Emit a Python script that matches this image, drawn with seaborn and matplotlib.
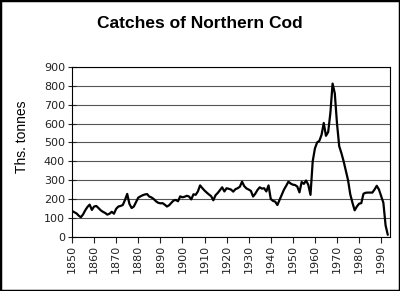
import matplotlib
matplotlib.use('Agg')
import matplotlib.pyplot as plt
import seaborn as sns
import pandas as pd
from matplotlib.patches import Rectangle

# ---- data ----
years = list(range(1850, 1994))
catches = [
    137, 130, 124, 112, 103, 118, 140, 158, 170, 142,   # 1850s
    160, 163, 152, 140, 132, 126, 117, 122, 132, 122,   # 1860s
    148, 160, 163, 168, 195, 227, 174, 152, 160, 184,   # 1870s
    207, 214, 220, 224, 226, 213, 208, 200, 188, 180,   # 1880s
    177, 178, 170, 160, 167, 180, 192, 195, 188, 214,   # 1890s
    209, 212, 217, 213, 198, 225, 222, 240, 272, 258,   # 1900s
    245, 234, 224, 215, 193, 220, 232, 247, 262, 240,   # 1910s
    257, 254, 250, 239, 252, 257, 265, 292, 268, 256,   # 1920s
    250, 243, 213, 228, 248, 262, 255, 257, 240, 272,   # 1930s
    200, 190, 186, 168, 195, 222, 250, 270, 292, 282,   # 1940s
    276, 274, 266, 235, 290, 280, 298, 275, 222, 400,   # 1950s
    468, 500, 508, 540, 603, 535, 555, 656, 812, 760,   # 1960s
    600, 480, 443, 400, 350, 300, 225, 180, 140, 160,   # 1970s
    175, 178, 228, 233, 234, 234, 234, 250, 270, 250,   # 1980s
    215, 180, 60, 10,                                   # 1990s
]
x_ticks = list(range(1850, 1991, 10))
x_tick_labels = [str(y) for y in x_ticks]
y_ticks = list(range(0, 901, 100))
title = "Catches of Northern Cod"
y_label = "Ths. tonnes"

sns.set_theme(style='white')
plt.rcParams['font.family'] = ['DejaVu Sans']

df = pd.DataFrame({'Year': years, 'Catch': catches})

fig = plt.figure(figsize=(4, 2.91), dpi=100)
fig.patch.set_facecolor('white')
ax = fig.add_axes([0.18, 0.1866, 0.795, 0.5832])
ax.set_facecolor('white')

ax.set_axisbelow(True)
ax.yaxis.grid(True, color='#555555', linewidth=0.8)
ax.xaxis.grid(False)

sns.lineplot(data=df, x='Year', y='Catch', ax=ax, color='black', linewidth=1.6)

ax.set_xlim(1850, 1994)
ax.set_ylim(0, 900)
ax.set_xticks(x_ticks)
ax.set_xticklabels(x_tick_labels, rotation=90)
ax.set_yticks(y_ticks)
ax.set_yticklabels([str(v) for v in y_ticks])
ax.tick_params(axis='both', labelsize=8, colors='#222222')
ax.tick_params(axis='y', direction='inout', length=6, width=0.8, pad=2, left=True)
ax.tick_params(axis='x', direction='out', length=4, width=0.8, pad=2, bottom=True)

for side, sp in ax.spines.items():
    sp.set_visible(True)
    sp.set_color('black')
    sp.set_linewidth(0.8)

ax.set_xlabel('')
ax.set_ylabel(y_label, fontsize=10, family=['Liberation Sans', 'DejaVu Sans'], color='black')
ax.yaxis.set_label_coords(-0.135, 0.59)

fig.text(0.5, 1 - 23 / 291, title, ha='center', va='center', fontsize=12.5,
         fontweight='bold', family=['Liberation Sans', 'DejaVu Sans'], color='black')

fig.patches.append(Rectangle((0, 0), 1, 1, transform=fig.transFigure, fill=False,
                             edgecolor='black', linewidth=2.5, zorder=10))

fig.savefig('out.png', dpi=100, facecolor='white')
